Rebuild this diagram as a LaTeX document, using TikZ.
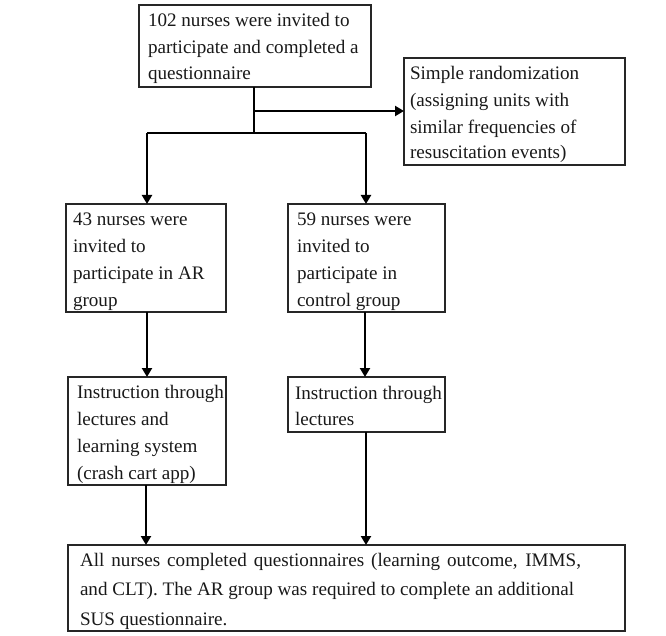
\documentclass[tikz,border=0pt]{standalone}
\usepackage{fontspec}
\setmainfont{Liberation Serif}
\usetikzlibrary{arrows.meta}
\tikzset{
 boxn/.style={draw=black!85,line width=1.2pt,inner sep=0pt,outer sep=0pt,anchor=north west},
 txt/.style={anchor=base west,inner sep=0pt,outer sep=0pt,text=black!90,font=\fontsize{19.1pt}{19.1pt}\selectfont},
 conn/.style={line width=2.2pt,-{Triangle[length=9pt,width=10pt]}},
 seg/.style={line width=2.2pt},
}
\newcommand{\bx}[5]{\node[boxn,minimum width=#4pt,minimum height=#5pt] (#1) at (#2,#3) {};}
\newcommand{\tl}[3]{\node[txt] at (#1,#2) {#3};}
\begin{document}
\begin{tikzpicture}[x=1pt,y=-1pt]
\useasboundingbox (0,0) rectangle (666,636);
\bx{top}{139}{5}{232}{82}
\bx{rnd}{404}{58}{221}{107}
\bx{ar}{66}{204}{160}{108}
\bx{ctl}{288}{204}{157}{108}
\bx{ins}{68}{377}{158}{108}
\bx{lec}{288}{377}{157}{55}
\bx{all}{68}{545}{557}{86}
\tl{148}{27}{102 nurses were invited to}
\tl{148}{53.500}{participate and completed a}
\tl{148}{80}{questionnaire}
\tl{410}{80}{Simple randomization}
\tl{410}{107}{(assigning units with}
\tl{410}{133.500}{similar frequencies of}
\tl{410}{159}{resuscitation events)}
\tl{73}{226}{43 nurses were}
\tl{73}{253}{invited to}
\tl{73}{279.500}{participate in AR}
\tl{73}{306}{group}
\tl{297}{226}{59 nurses were}
\tl{297}{253}{invited to}
\tl{297}{279.500}{participate in}
\tl{297}{306}{control group}
\tl{77}{398.500}{Instruction through}
\tl{77}{425}{lectures and}
\tl{77}{452}{learning system}
\tl{77}{479}{(crash cart app)}
\tl{295}{399}{Instruction through}
\tl{295}{425.500}{lectures}
\tl{80}{566}{\makebox[501pt][s]{All nurses completed questionnaires (learning outcome, IMMS,}}
\tl{80}{595}{and CLT). The AR group was required to complete an additional}
\tl{80}{625.500}{SUS questionnaire.}
\coordinate (t0) at (254,87);
\coordinate (j1) at (254,111);
\coordinate (j2) at (254,133);
\coordinate (l) at (147,133);
\coordinate (r) at (366,133);
\draw[seg] (t0) -- (j2);
\draw[conn] (j1) -- (rnd.west |- j1);
\draw[seg] (l) -- (r);
\draw[conn] (l) -- (l |- ar.north);
\draw[conn] (r) -- (r |- ctl.north);
\coordinate (a1) at (147,312);
\coordinate (a2) at (365,312);
\coordinate (a3) at (146,485);
\coordinate (a4) at (366,432);
\draw[conn] (a1) -- (a1 |- ins.north);
\draw[conn] (a2) -- (a2 |- lec.north);
\draw[conn] (a3) -- (a3 |- all.north);
\draw[conn] (a4) -- (a4 |- all.north);
\end{tikzpicture}
\end{document}
